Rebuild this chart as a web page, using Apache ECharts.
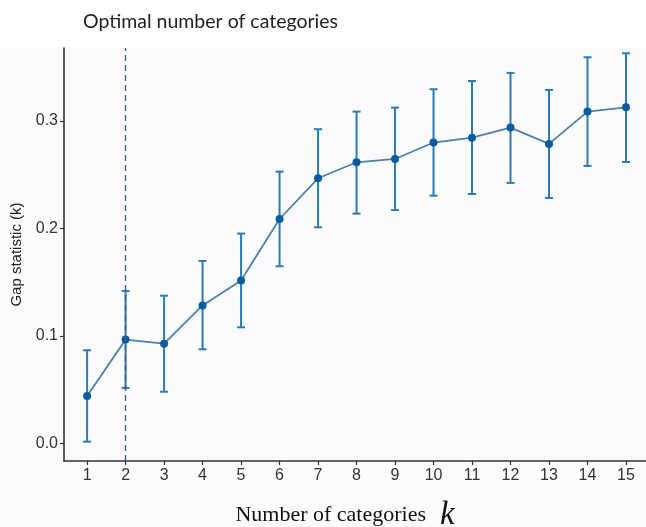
<!DOCTYPE html>
<html>
<head>
<meta charset="utf-8">
<script src="https://cdn.jsdelivr.net/npm/echarts@6/dist/echarts.min.js"></script>
<style>
  html, body { margin: 0; padding: 0; background: #ffffff; }
  #chart { width: 646px; height: 527px; }
</style>
</head>
<body>
<div id="chart"></div>
<script>
// Gap statistic by number of categories, with error bars (± 1 s.e.)
const categories = [1, 2, 3, 4, 5, 6, 7, 8, 9, 10, 11, 12, 13, 14, 15];
const gapValues  = [0.044, 0.0965, 0.0927, 0.1283, 0.1516, 0.2088, 0.2467, 0.2616, 0.2647, 0.280, 0.2845, 0.2939, 0.2787, 0.3088, 0.3128];
const gapUpper   = [0.0866, 0.1418, 0.1374, 0.1697, 0.1952, 0.2529, 0.2924, 0.3088, 0.3125, 0.3296, 0.3373, 0.3448, 0.329, 0.3594, 0.3631];
const gapLower   = [0.0015, 0.0515, 0.048, 0.0875, 0.108, 0.1648, 0.2011, 0.2138, 0.2171, 0.2305, 0.2321, 0.2424, 0.2284, 0.2582, 0.2619];
const yTicks     = [0, 0.1, 0.2, 0.3];
const optimalK   = 2;

const chart = echarts.init(document.getElementById('chart'), null, { renderer: 'canvas' });

const lineData = categories.map((k, i) => [k, gapValues[i]]);
const errData = categories.map((k, i) => [k, gapLower[i], gapUpper[i]]);

const option = {
  backgroundColor: '#ffffff',
  animation: false,
  textStyle: { fontFamily: 'Liberation Sans' },
  graphic: [{
    type: 'rect', z: -10, silent: true,
    shape: { x: 0, y: 48, width: 646, height: 479 },
    style: { fill: '#fbfbfd' }
  }],
  title: {
    text: 'Optimal number of categories',
    left: 78,
    top: 7,
    textStyle: { fontFamily: 'Lato', fontWeight: 'normal', fontSize: 19.5, color: '#222222' }
  },
  grid: {
    left: 64, right: 0, top: 48, bottom: 66,
    outerBoundsMode: 'none',
    containLabel: false,
    show: false
  },
  xAxis: {
    type: 'value',
    min: 0.4,
    max: 15.52,
    name: '{t|Number of categories}{k|k}',
    nameLocation: 'middle',
    nameGap: 38,
    nameTextStyle: {
      padding: [0, 20, 0, 0],
      rich: {
        t: { fontFamily: 'Liberation Serif', fontSize: 22, color: '#111111' },
        k: { fontFamily: 'Liberation Serif', fontStyle: 'italic', fontSize: 33, color: '#111111', padding: [0, 0, 0, 14] }
      }
    },
    splitLine: { show: false },
    axisLine: { show: true, onZero: false, lineStyle: { color: '#333333', width: 1.6 } },
    axisTick: { show: true, customValues: categories, length: 4, lineStyle: { color: '#333333', width: 1.2 } },
    axisLabel: {
      customValues: categories,
      fontFamily: 'Liberation Sans', fontSize: 16, color: '#333333', margin: 7
    }
  },
  yAxis: {
    type: 'value',
    min: -0.0165,
    max: 0.368,
    name: 'Gap statistic (k)',
    nameLocation: 'middle',
    nameGap: 38,
    nameTextStyle: { fontFamily: 'Liberation Sans', fontSize: 15, color: '#222222' },
    splitLine: { show: false },
    axisLine: { show: true, onZero: false, lineStyle: { color: '#333333', width: 1.6 } },
    axisTick: { show: true, customValues: yTicks, length: 4, lineStyle: { color: '#333333', width: 1.2 } },
    axisLabel: {
      customValues: yTicks,
      formatter: v => v.toFixed(1),
      fontFamily: 'Liberation Sans', fontSize: 16, color: '#333333', margin: 6
    }
  },
  series: [
    {
      name: 'error',
      type: 'custom',
      z: 2,
      data: errData,
      encode: { x: 0, y: [1, 2] },
      renderItem: function (params, api) {
        const x = api.value(0);
        const lo = api.coord([x, api.value(1)]);
        const hi = api.coord([x, api.value(2)]);
        const cap = 4;
        const style = { stroke: '#2b7bb8', lineWidth: 2, fill: 'none' };
        return {
          type: 'group',
          children: [
            { type: 'line', shape: { x1: lo[0], y1: lo[1], x2: hi[0], y2: hi[1] }, style: style },
            { type: 'line', shape: { x1: lo[0] - cap, y1: lo[1], x2: lo[0] + cap, y2: lo[1] }, style: style },
            { type: 'line', shape: { x1: hi[0] - cap, y1: hi[1], x2: hi[0] + cap, y2: hi[1] }, style: style }
          ]
        };
      }
    },
    {
      name: 'gap',
      type: 'line',
      z: 3,
      data: lineData,
      symbol: 'circle',
      symbolSize: 8,
      lineStyle: { color: '#4b82ad', width: 1.8 },
      itemStyle: { color: '#0b5c9c' },
      markLine: {
        silent: true,
        symbol: 'none',
        label: { show: false },
        lineStyle: { color: '#3d5f88', type: [6, 4], width: 1.4 },
        data: [{ xAxis: optimalK }]
      }
    }
  ]
};

chart.setOption(option);
</script>
</body>
</html>
